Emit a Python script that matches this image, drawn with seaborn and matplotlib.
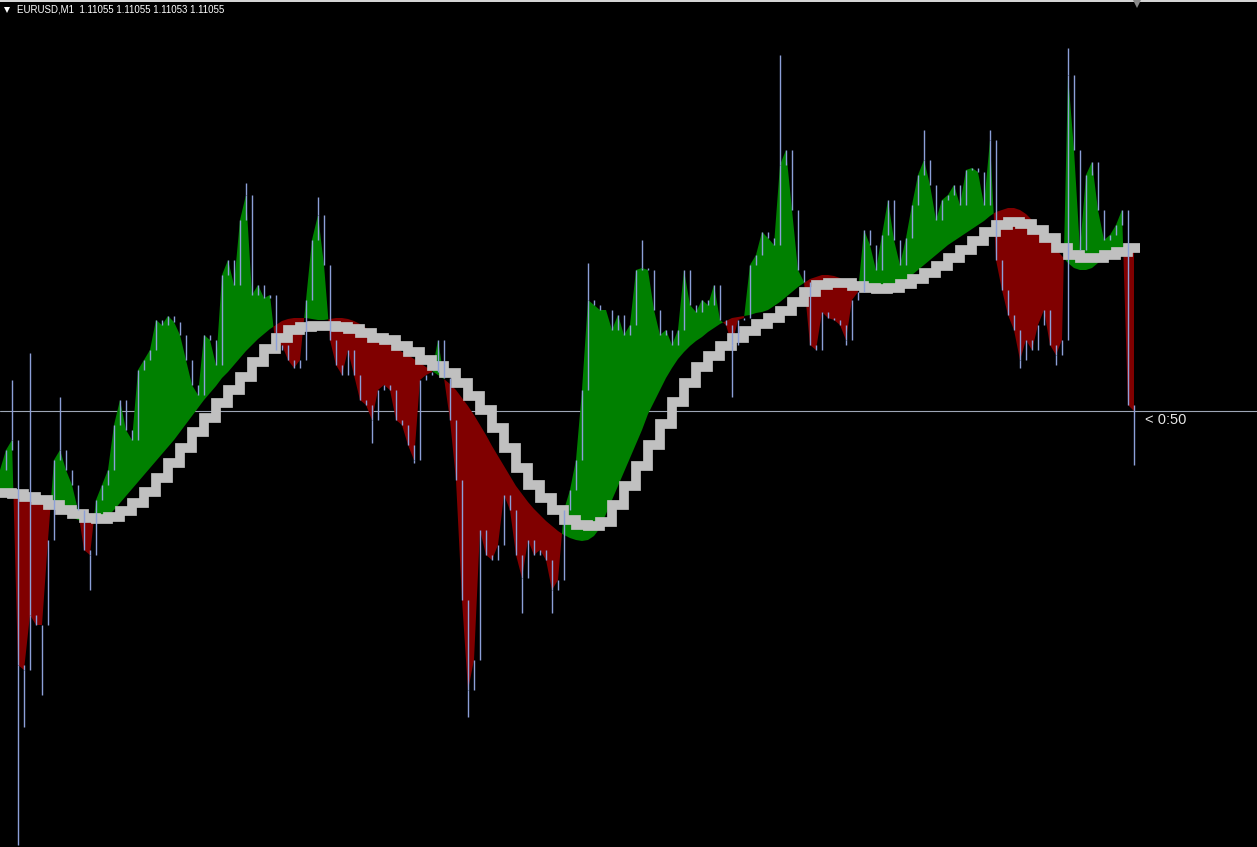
import numpy as np
import matplotlib
matplotlib.use("Agg")
import matplotlib.pyplot as plt
import seaborn as sns
from matplotlib.lines import Line2D

symbol = "EURUSD,M1"
last_quote = ["1.11055", "1.11055", "1.11053", "1.11055"]
timer_label = "< 0:50"
current_price = 1.11055

# close price of each bar
close = [
    1.10996, 1.11016, 1.11026, 1.10801, 1.10796, 1.10851, 1.10841, 1.10841, 1.10926, 1.11006,
    1.11016, 1.10996, 1.10981, 1.10956, 1.10916, 1.10911, 1.10966, 1.10981, 1.10996, 1.11041,
    1.11066, 1.11036, 1.11026, 1.11096, 1.11106, 1.11116, 1.11146, 1.11141, 1.11150, 1.11144,
    1.11131, 1.11106, 1.11081, 1.11071, 1.11131, 1.11126, 1.11101, 1.11191, 1.11206, 1.11181,
    1.11246, 1.11271, 1.11171, 1.11181, 1.11168, 1.11171, 1.11116, 1.11121, 1.11106, 1.11098,
    1.11106, 1.11166, 1.11226, 1.11251, 1.11201, 1.11126, 1.11101, 1.11091, 1.11116, 1.11091,
    1.11066, 1.11061, 1.11046, 1.11076, 1.11081, 1.11076, 1.11046, 1.11041, 1.11021, 1.11006,
    1.11086, 1.11091, 1.11094, 1.11126, 1.11088, 1.11046, 1.10986, 1.10866, 1.10776, 1.10806,
    1.10936, 1.10911, 1.10906, 1.10921, 1.10971, 1.10956, 1.10911, 1.10888, 1.10926, 1.10911,
    1.10916, 1.10906, 1.10876, 1.10886, 1.10956, 1.10976, 1.11006, 1.11076, 1.11166, 1.11161,
    1.11156, 1.11156, 1.11136, 1.11151, 1.11131, 1.11141, 1.11196, 1.11198, 1.11196, 1.11156,
    1.11131, 1.11136, 1.11121, 1.11136, 1.11196, 1.11161, 1.11154, 1.11166, 1.11161, 1.11181,
    1.11146, 1.11141, 1.11121, 1.11146, 1.11148, 1.11201, 1.11211, 1.11234, 1.11228, 1.11221,
    1.11301, 1.11316, 1.11256, 1.11196, 1.11184, 1.11121, 1.11116, 1.11154, 1.11148, 1.11146,
    1.11141, 1.11126, 1.11166, 1.11174, 1.11236, 1.11221, 1.11196, 1.11231, 1.11266, 1.11226,
    1.11201, 1.11228, 1.11261, 1.11291, 1.11306, 1.11281, 1.11246, 1.11266, 1.11271, 1.11281,
    1.11261, 1.11296, 1.11298, 1.11294, 1.11261, 1.11326, 1.11206, 1.11176, 1.11151, 1.11136,
    1.11106, 1.11126, 1.11116, 1.11141, 1.11156, 1.11121, 1.11111, 1.11126, 1.11391, 1.11316,
    1.11216, 1.11291, 1.11304, 1.11256, 1.11226, 1.11231, 1.11241, 1.11256, 1.11061, 1.11055,
]

# fast moving average (histogram base)
ma_fast = [
    1.10975, 1.10975, 1.10974, 1.10973, 1.10971, 1.10969, 1.10967, 1.10964, 1.10961, 1.10958,
    1.10955, 1.10952, 1.10949, 1.10946, 1.10944, 1.10943, 1.10944, 1.10946, 1.10950, 1.10956,
    1.10963, 1.10970, 1.10977, 1.10984, 1.10991, 1.10998, 1.11005, 1.11012, 1.11019, 1.11026,
    1.11034, 1.11042, 1.11050, 1.11058, 1.11066, 1.11073, 1.11080, 1.11088, 1.11094, 1.11101,
    1.11108, 1.11115, 1.11121, 1.11127, 1.11132, 1.11137, 1.11141, 1.11145, 1.11147, 1.11148,
    1.11148, 1.11148, 1.11147, 1.11146, 1.11146, 1.11147, 1.11148, 1.11148, 1.11147, 1.11145,
    1.11142, 1.11138, 1.11133, 1.11128, 1.11124, 1.11121, 1.11118, 1.11114, 1.11111, 1.11107,
    1.11103, 1.11099, 1.11095, 1.11091, 1.11087, 1.11082, 1.11076, 1.11068, 1.11060, 1.11051,
    1.11041, 1.11031, 1.11020, 1.11010, 1.11000, 1.10990, 1.10980, 1.10972, 1.10964, 1.10957,
    1.10951, 1.10945, 1.10940, 1.10935, 1.10931, 1.10928, 1.10926, 1.10925, 1.10926, 1.10930,
    1.10938, 1.10952, 1.10966, 1.10980, 1.10994, 1.11008, 1.11022, 1.11036, 1.11052, 1.11064,
    1.11076, 1.11088, 1.11098, 1.11107, 1.11114, 1.11120, 1.11125, 1.11129, 1.11134, 1.11138,
    1.11142, 1.11145, 1.11148, 1.11149, 1.11150, 1.11151, 1.11153, 1.11154, 1.11156, 1.11160,
    1.11164, 1.11169, 1.11174, 1.11179, 1.11183, 1.11187, 1.11189, 1.11191, 1.11191, 1.11190,
    1.11188, 1.11185, 1.11182, 1.11179, 1.11176, 1.11175, 1.11174, 1.11174, 1.11175, 1.11177,
    1.11181, 1.11186, 1.11191, 1.11196, 1.11201, 1.11206, 1.11211, 1.11216, 1.11221, 1.11225,
    1.11229, 1.11233, 1.11237, 1.11241, 1.11245, 1.11250, 1.11254, 1.11256, 1.11258, 1.11258,
    1.11256, 1.11252, 1.11246, 1.11239, 1.11232, 1.11225, 1.11217, 1.11210, 1.11203, 1.11198,
    1.11196, 1.11196, 1.11198, 1.11203, 1.11207, 1.11210, 1.11213, 1.11216, 1.11219, 1.11221,
]

# slow moving average (gray stepped line), one value every 2 bars
ma_slow = [
    1.10973, 1.10972, 1.10969, 1.10966, 1.10961, 1.10956, 1.10952, 1.10948, 1.10947, 1.10949,
    1.10955, 1.10963, 1.10974, 1.10988, 1.11003, 1.11018, 1.11034, 1.11048, 1.11063, 1.11076,
    1.11089, 1.11104, 1.11117, 1.11128, 1.11136, 1.11139, 1.11140, 1.11140, 1.11139, 1.11137,
    1.11133, 1.11128, 1.11126, 1.11120, 1.11114, 1.11106, 1.11100, 1.11093, 1.11083, 1.11070,
    1.11056, 1.11038, 1.11018, 1.10998, 1.10981, 1.10968, 1.10956, 1.10946, 1.10941, 1.10940,
    1.10944, 1.10961, 1.10980, 1.11000, 1.11021, 1.11042, 1.11064, 1.11083, 1.11099, 1.11110,
    1.11120, 1.11128, 1.11135, 1.11142, 1.11148, 1.11155, 1.11164, 1.11174, 1.11181, 1.11183,
    1.11183, 1.11180, 1.11178, 1.11177, 1.11178, 1.11182, 1.11187, 1.11193, 1.11200, 1.11208,
    1.11216, 1.11225, 1.11234, 1.11241, 1.11244, 1.11242, 1.11236, 1.11228, 1.11218, 1.11211,
    1.11208, 1.11208, 1.11211, 1.11214, 1.11218,
]

# long wicks: bar index and extreme price
wick_bar = [2, 3, 4, 5, 7, 10, 15, 41, 53, 62, 69, 78, 87, 92, 98, 107, 122, 130, 141,
            154, 165, 170, 176, 178, 189]
wick_price = [1.11086, 1.10621, 1.10739, 1.11113, 1.10771, 1.11069, 1.10876, 1.11283, 1.11269,
              1.11023, 1.11003, 1.10749, 1.10853, 1.10853, 1.11203, 1.11226, 1.11069, 1.11411,
              1.11121, 1.11336, 1.11336, 1.11098, 1.11101, 1.11418, 1.11001]

W, H = 1257, 847
BAR_PX = 6

sns.set_style("dark", {"axes.facecolor": "black", "figure.facecolor": "black"})
fig = plt.figure(figsize=(W / 100, H / 100), dpi=100)
fig.patch.set_facecolor("black")
ax = fig.add_axes([0, 0, 1, 1])
ax.set_facecolor("black")
ax.set_axis_off()

x = np.arange(len(close))
c = np.array(close)
m = np.array(ma_fast)
ax.set_xlim(0, W / BAR_PX)
ax.set_ylim(1.10619, 1.11466)

# current price line
ax.axhline(current_price, color="#9ea6b6", lw=0.8, zorder=0)

# histogram between price and fast MA
ax.fill_between(x, c, m, where=c >= m, interpolate=True, color="#008000", lw=0, zorder=1)
ax.fill_between(x, c, m, where=c <= m, interpolate=True, color="#800000", lw=0, zorder=1)

# gray stepped slow MA
xs = np.arange(len(ma_slow) + 1) * 2
ys = np.append(ma_slow, ma_slow[-1])
sns.lineplot(x=xs, y=ys, drawstyle="steps-post", color="#c0c0c0", linewidth=7,
             ax=ax, zorder=2, solid_capstyle="butt", solid_joinstyle="miter",
             estimator=None, sort=False)

# price bars
ax.vlines(x[1:], c[:-1], c[1:], colors="#8c9fd8", lw=1.0, zorder=3)
wb = np.array(wick_bar)
ax.vlines(wb, c[wb], np.array(wick_price), colors="#8c9fd8", lw=1.0, zorder=3)

# header / decorations
fig.add_artist(Line2D([0, 1], [1 - 1.5 / H] * 2, color="white", lw=1.2,
                      transform=fig.transFigure))
fig.add_artist(Line2D([7 / W], [1 - 10 / H], marker="v", markersize=4.5, color="white",
                      markeredgewidth=0, transform=fig.transFigure))
fig.add_artist(Line2D([1137 / W], [1 - 4 / H], marker="v", markersize=6, color="#8a8a8a",
                      markeredgewidth=0, transform=fig.transFigure))
fig.text(17 / W, 1 - 10 / H, symbol + "  " + " ".join(last_quote), color="white",
         fontsize=7, family="Liberation Sans", va="center", ha="left")
fig.text(1145 / W, 1 - 420 / H, timer_label, color="#e6e6e6", fontsize=10.5,
         family="Liberation Sans", va="center", ha="left")

fig.savefig("out.png", dpi=100, facecolor="black")
